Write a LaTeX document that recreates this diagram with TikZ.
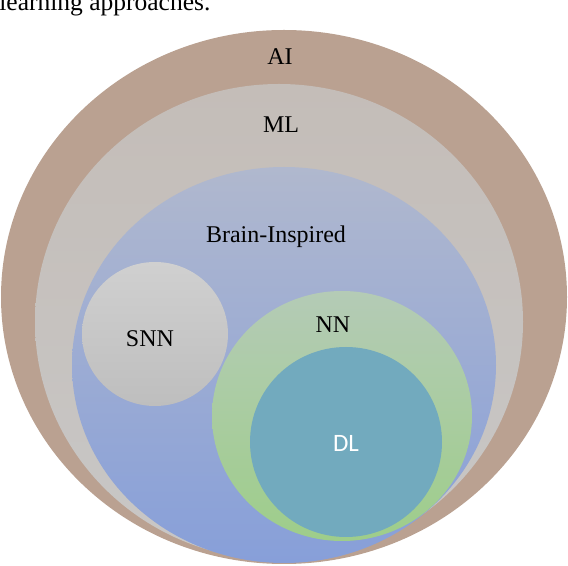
\documentclass[tikz,border=0pt]{standalone}
\usepackage{fontspec}
\setmainfont{Liberation Serif}
\newfontfamily\dlfont{Carlito}
\usetikzlibrary{positioning, shapes.geometric}

\definecolor{aibrown}{RGB}{186,161,145}
\definecolor{mlgrey}{RGB}{196,189,184}
\definecolor{mlgreylow}{RGB}{200,199,198}
\definecolor{brtop}{RGB}{176,184,206}
\definecolor{brbot}{RGB}{135,159,217}
\definecolor{snntop}{RGB}{208,208,208}
\definecolor{snnbot}{RGB}{190,190,190}
\definecolor{nntop}{RGB}{180,203,182}
\definecolor{nnbot}{RGB}{158,205,138}
\definecolor{dlteal}{RGB}{114,170,190}

\begin{document}
\begin{tikzpicture}[
  x=0.5pt, y=-0.5pt,
  set/.style={ellipse, draw=none, inner sep=0pt},
  lbl/.style={inner sep=0pt, font=\fontsize{12}{14}\selectfont}
]
  \useasboundingbox (0,0) rectangle (568,566);

  % caption cut by the page edge
  \node[anchor=base west, inner sep=0pt, font=\fontsize{12.75}{15}\selectfont] (cap) at (-1,10.5) {learning approaches.};

  % nested sets
  \node[set, fill=aibrown, minimum width=283pt, minimum height=267pt] (ai) at (284,297) {};
  \node[set, top color=mlgrey, bottom color=mlgreylow, minimum width=244pt, minimum height=238pt] (ml) at (279,322) {};
  \node[set, top color=brtop, bottom color=brbot, minimum width=212pt, minimum height=198pt] (brain) at (284,365) {};
  \node[set, top color=snntop, bottom color=snnbot, minimum width=73pt, minimum height=72pt] (snn) at (155,334) {};
  \node[set, top color=nntop, bottom color=nnbot, minimum width=130pt, minimum height=125pt] (nn) at (342,416) {};
  \node[set, fill=dlteal, minimum width=96pt, minimum height=95pt] (dl) at (346,442) {};

  % labels
  \node[lbl] (ailbl) at (280,57) {AI};
  \node[lbl] (mllbl) at (281,125) {ML};
  \node[lbl] (brainlbl) at (276,237) {Brain-Inspired};
  \node[lbl] (snnlbl) at (150,339) {SNN};
  \node[lbl] (nnlbl) at (333,325) {NN};
  \node[lbl, text=white, font=\dlfont\fontsize{12.5}{14}\selectfont] (dllbl) at (346,443) {DL};
\end{tikzpicture}
\end{document}
